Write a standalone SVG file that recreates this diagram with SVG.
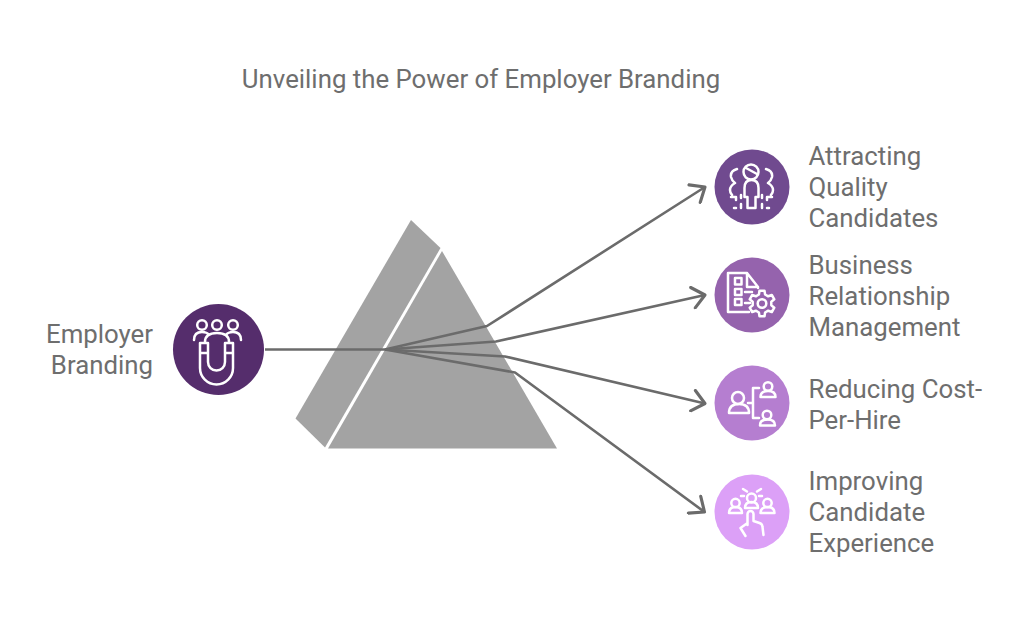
<svg xmlns="http://www.w3.org/2000/svg" width="1024" height="622" viewBox="0 0 1024 622">
<style>
text{font-family:Roboto,"Liberation Sans",sans-serif;font-size:25.8px;fill:#6e6e6e}
.c{fill:none;stroke:#6b6b6b;stroke-width:2.6;stroke-linejoin:round}
.i{fill:none;stroke:#fff;stroke-width:2.5;stroke-linecap:round;stroke-linejoin:round}
</style>
<defs><marker id="a" markerUnits="userSpaceOnUse" markerWidth="24" markerHeight="24" refX="15" refY="10" orient="auto" viewBox="0 0 20 20"><path d="M4.700 1.300L15 10L4.700 18.700" fill="none" stroke="#6b6b6b" stroke-width="2.600" stroke-linecap="round" stroke-linejoin="round"/></marker></defs>
<rect width="1024" height="622" fill="#fff"/>
<text id="title" x="481" y="88" text-anchor="middle">Unveiling the Power of Employer Branding</text>
<g id="prism" fill="#a3a3a3">
<path d="M411 220L440.500 248L325 447.500L295.500 418.500Z"/>
<path d="M442 251L557 448.500H328Z"/>
</g>
<g id="connectors">
<path class="c" d="M265 349.500H385"/>
<path class="c" marker-end="url(#a)" d="M385 349.500L487 326L705 187"/>
<path class="c" marker-end="url(#a)" d="M385 349.500L496 341.500L705 295"/>
<path class="c" marker-end="url(#a)" d="M385 349.500L505 356.500L705 403.500"/>
<path class="c" marker-end="url(#a)" d="M385 349.500L515 372.500L704.500 512"/>
</g>
<g id="node-employer">
<circle cx="218.500" cy="349.500" r="45.500" fill="#552d6c"/>
<g class="i">
<circle cx="202" cy="325" r="4.800"/><circle cx="217" cy="325" r="4.800"/><circle cx="233" cy="325" r="4.800"/>
<path d="M194 340q0-8 8-8q5 0 7 3M241 340q0-8-8-8q-5 0-7 3M205 342q0-9 12-9t12 9"/>
<path d="M200 343h8v10h-8zM225 343h8v10h-8zM200 353v15a16.500 16.500 0 0 0 33 0v-15M208 353v9a8.500 8.500 0 0 0 17 0v-9"/>
</g>
<text x="153" y="343" text-anchor="end">Employer</text>
<text x="153" y="374" text-anchor="end">Branding</text>
</g>
<g id="node-attracting">
<circle cx="752" cy="187" r="37.500" fill="#704a8f"/>
<g class="i">
<circle cx="751" cy="172" r="7.500"/><path d="M746 168l11 6"/>
<path d="M744.500 197v-9q0-8 7-8t7 8v9h-3v11h-8v-11z"/>
<path d="M737 169q-7 2-6 8q1 4 4 6q-5 3-5 7q0 3 2 5M766 169q7 2 6 8q-1 4-4 6q5 3 5 7q0 3-2 5M731 197h5v3M772 197h-5v3M734 208h2M767 208h2M741 195v3M762 195v3M741 204v4M762 204v4"/>
</g>
<text x="808.500" y="165">Attracting</text><text x="808.500" y="196">Quality</text><text x="808.500" y="227">Candidates</text>
</g>
<g id="node-business">
<circle cx="752" cy="295" r="37.500" fill="#9563ad"/>
<g class="i">
<path d="M758 288v-1l-11-14h-19v39h21M747 273v14h11"/>
<rect x="735" y="278" width="6.500" height="6.500"/><rect x="735" y="289" width="6.500" height="6"/><rect x="735" y="299" width="6.500" height="6"/>
<path d="M745 292h7M745 303h5"/>
<circle cx="762" cy="303.500" r="4.300"/>
<path transform="translate(762 303.500)" d="M-2.500-12.800H2.500L3.100-9L6.200-7.200L9.800-8.500L12.300-4.200L9.300-1.800V1.800L12.300 4.200L9.800 8.500L6.200 7.200L3.100 9L2.500 12.800H-2.500L-3.100 9L-6.200 7.200L-9.800 8.500L-12.300 4.200L-9.300 1.800V-1.800L-12.300-4.200L-9.800-8.500L-6.200-7.200L-3.100-9Z"/>
</g>
<text x="808.500" y="274">Business</text><text x="808.500" y="305">Relationship</text><text x="808.500" y="336">Management</text>
</g>
<g id="node-reducing">
<circle cx="752" cy="403" r="37.500" fill="#b57ed0"/>
<g class="i">
<circle cx="738" cy="398" r="6"/><path d="M729 413q0-9 10-9t10 9zM748 403h5M753 388v30M753 388h6M753 418h6"/>
<circle cx="768" cy="386.500" r="4.300"/><path d="M760.500 397q0-6 7.500-6t7.500 6z"/>
<circle cx="767" cy="415" r="4.300"/><path d="M760 425.500q0-6 7.500-6t7.500 6z"/>
</g>
<text x="808.500" y="398">Reducing Cost-</text><text x="808.500" y="429">Per-Hire</text>
</g>
<g id="node-improving">
<circle cx="752" cy="512" r="37.500" fill="#dca0f7"/>
<g class="i">
<circle cx="751.500" cy="498" r="4.500"/><path d="M745 508q0-6 6.500-6t6.500 6z"/>
<circle cx="735.500" cy="503" r="4.200"/><path d="M729 513q0-6 6.500-6t6.500 6z"/>
<circle cx="767.500" cy="503" r="4.200"/><path d="M760.500 513q0-6 7-6t7 6z"/>
<path d="M743 489l4 2.500M761 489l-4 2.500M741 496h3M762 496h-3"/>
<path d="M747.500 525v-11a3 3 0 0 1 6 0v7l6 2q3 1 3 4l1 8M747.500 523l-7 5l5 8"/>
</g>
<text x="808.500" y="490">Improving</text><text x="808.500" y="521">Candidate</text><text x="808.500" y="552">Experience</text>
</g>
</svg>
